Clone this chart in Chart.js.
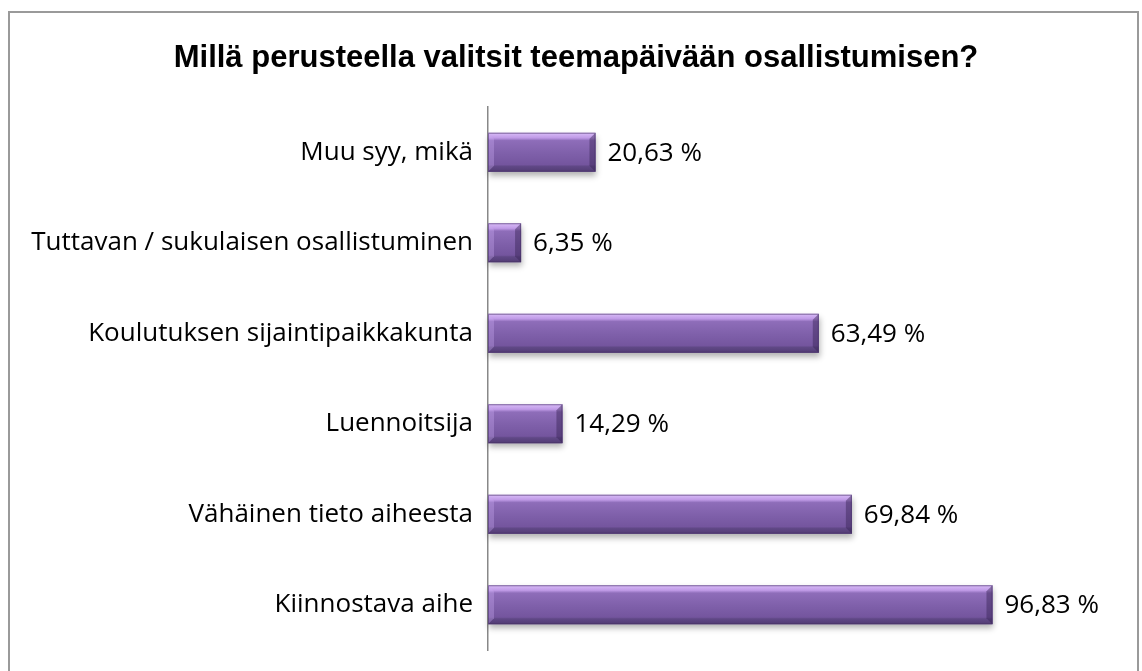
<!DOCTYPE html>
<html>
<head>
<meta charset="utf-8">
<script src="https://cdn.jsdelivr.net/npm/chart.js@4.4.0/dist/chart.umd.min.js"></script>
<style>
  html, body { margin: 0; padding: 0; background: #fff; overflow: hidden; }
  #wrap { position: relative; width: 1142px; height: 671px; }
  #frame { position: absolute; left: 8px; top: 11px; width: 1131px; height: 700px; border: 2px solid #9a9a9a; box-sizing: border-box; }
  canvas { position: absolute; left: 0; top: 0; }
</style>
</head>
<body>
<div id="wrap">
  <div id="frame"></div>
  <canvas id="myChart" width="1142" height="671"></canvas>
</div>
<script>
var kategoriat = [
    "Muu syy, mikä",
    "Tuttavan / sukulaisen osallistuminen",
    "Koulutuksen sijaintipaikkakunta",
    "Luennoitsija",
    "Vähäinen tieto aiheesta",
    "Kiinnostava aihe"
];
var osuudet = [20.63, 6.35, 63.49, 14.29, 69.84, 96.83];
var otsikko = "Millä perusteella valitsit teemapäivään osallistumisen?";

function muotoile(v) {
    return v.toFixed(2).replace(".", ",") + " %";
}

// Otsikko keskitetään koko kuvan leveydelle (ei kaavioalueen)
var otsikkoPlugin = {
    id: "otsikko",
    afterDraw: function(chart) {
        var ctx = chart.ctx;
        ctx.save();
        ctx.fillStyle = "#000";
        ctx.font = "bold 31px 'Liberation Sans', Arial, sans-serif";
        ctx.textAlign = "center";
        ctx.textBaseline = "middle";
        ctx.fillText(otsikko, 576, 58);
        ctx.restore();
    }
};

// Piirtää pylväät viistetyllä, Excel-tyylisellä pinnalla sekä arvot
var viistePlugin = {
    id: "viiste",
    afterDatasetsDraw: function(chart) {
        var ctx = chart.ctx;
        var meta = chart.getDatasetMeta(0);
        meta.data.forEach(function(el, i) {
            var p = el.getProps(["x", "y", "base", "height"], true);
            var left = p.base, right = p.x;
            var top = p.y - p.height / 2, bottom = p.y + p.height / 2;
            var w = right - left, h = bottom - top;
            var b = Math.min(6, w / 2);

            ctx.save();
            // varjo
            ctx.shadowColor = "rgba(0,0,0,0.3)";
            ctx.shadowBlur = 6;
            ctx.shadowOffsetY = 4;
            ctx.shadowOffsetX = 1;
            ctx.fillStyle = "#7656a0";
            ctx.fillRect(left, top, w, h);
            ctx.restore();

            ctx.save();
            var g = ctx.createLinearGradient(0, top, 0, bottom);
            g.addColorStop(0, "#d9bcf8");
            g.addColorStop(0.13, "#bf9ae6");
            g.addColorStop(0.2, "#8e6db9");
            g.addColorStop(0.55, "#7e5fa9");
            g.addColorStop(0.82, "#74559e");
            g.addColorStop(0.86, "#604886");
            g.addColorStop(1, "#523c74");
            ctx.fillStyle = g;
            ctx.fillRect(left, top, w, h);

            // oikea pääty
            ctx.beginPath();
            ctx.moveTo(right, top);
            ctx.lineTo(right - b, top + b);
            ctx.lineTo(right - b, bottom - b);
            ctx.lineTo(right, bottom);
            ctx.closePath();
            ctx.fillStyle = "rgba(55,35,85,0.45)";
            ctx.fill();

            // vasen pääty
            ctx.beginPath();
            ctx.moveTo(left, top);
            ctx.lineTo(left + b, top + b);
            ctx.lineTo(left + b, bottom - b);
            ctx.lineTo(left, bottom);
            ctx.closePath();
            ctx.fillStyle = "rgba(200,170,240,0.35)";
            ctx.fill();

            ctx.strokeStyle = "rgba(70,50,100,0.55)";
            ctx.lineWidth = 1;
            ctx.strokeRect(left + 0.5, top + 0.5, w - 1, h - 1);
            ctx.restore();

            // arvo
            ctx.save();
            ctx.fillStyle = "#000";
            ctx.font = "26px 'Open Sans', sans-serif";
            ctx.textAlign = "left";
            ctx.textBaseline = "middle";
            ctx.fillText(muotoile(osuudet[i]), right + 12, p.y + 1);
            ctx.restore();
        });
    }
};

document.addEventListener("DOMContentLoaded", function() {
    var ctx = document.getElementById("myChart").getContext("2d");
    new Chart(ctx, {
        type: "bar",
        data: {
            labels: kategoriat,
            datasets: [{
                data: osuudet,
                backgroundColor: "rgba(0,0,0,0)",
                borderWidth: 0,
                barPercentage: 0.86,
                categoryPercentage: 0.5
            }]
        },
        options: {
            indexAxis: "y",
            responsive: false,
            animation: false,
            layout: {
                padding: { left: 0, right: 133, top: 107, bottom: 21 }
            },
            scales: {
                x: {
                    display: false,
                    min: 0,
                    max: 100
                },
                y: {
                    grid: { display: false, drawTicks: false },
                    border: { display: true, color: "#888888", width: 1.5 },
                    ticks: {
                        color: "#000",
                        padding: 15,
                        font: { family: "'Open Sans', sans-serif", size: 26 }
                    },
                    afterFit: function(axis) {
                        axis.width = 488; // akselin paikka vakioksi
                        axis.paddingTop = 0;
                        axis.paddingBottom = 0;
                    }
                }
            },
            plugins: {
                legend: { display: false },
                tooltip: { enabled: false },
                title: { display: false }
            }
        },
        plugins: [viistePlugin, otsikkoPlugin]
    });
});
</script>
</body>
</html>
